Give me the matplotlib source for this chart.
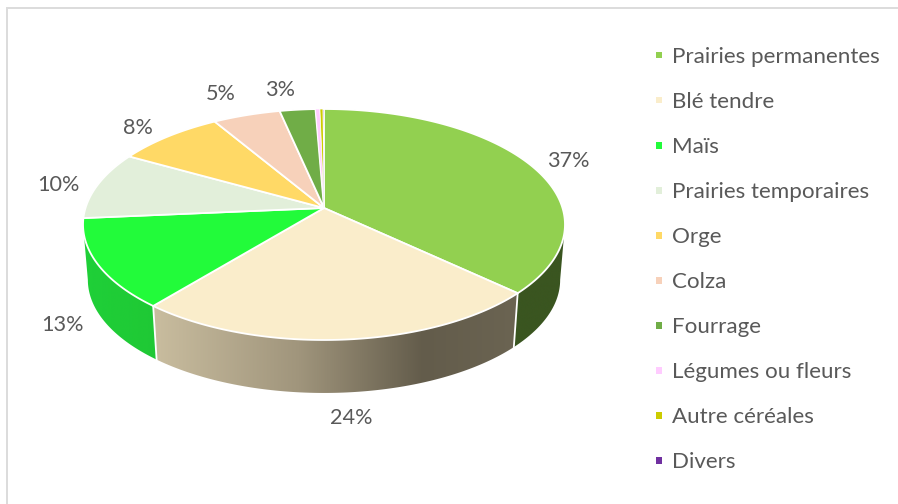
import numpy as np
import matplotlib
matplotlib.use("Agg")
import matplotlib.pyplot as plt
from matplotlib.patches import Polygon
from matplotlib.colors import LinearSegmentedColormap

categories = ["Prairies permanentes", "Blé tendre", "Maïs", "Prairies temporaires", "Orge",
              "Colza", "Fourrage", "Légumes ou fleurs", "Autre céréales", "Divers"]
values = [36.9, 24.1, 12.6, 9.5, 8.3, 5.2, 2.75, 0.34, 0.24, 0.07]
value_labels = ["37%", "24%", "13%", "10%", "8%", "5%", "3%"]
colors = ["#92D050", "#FAEDCB", "#22FB3A", "#E2EFDA", "#FFD966",
          "#F7D1BA", "#70AD47", "#FFCCFF", "#CCCC00", "#7030A0"]
label_pos = [(568, 161), (351, 418), (62, 325), (58, 185), (138, 128), (221, 94), (280, 90)]
wall_ramps = {0: [(0, "#3A5520"), (1, "#3A5520")],
              1: [(0, "#C9BD9F"), (0.40, "#A0957C"), (0.74, "#635C4B"), (1, "#6B6452")],
              2: [(0, "#1FD038"), (1, "#1FC835")]}

TXT = "#595959"
FONT = "Lato"
FS_LEG = 16.1
FS_LAB = 15.6

fig = plt.figure(figsize=(8.98, 5.04), dpi=100)
ax = fig.add_axes([0, 0, 1, 1])
ax.set_xlim(0, 898)
ax.set_ylim(504, 0)
ax.axis("off")

# Frame
ax.plot([7, 7, 897], [504, 8, 8], color="#DCDCDC", lw=1.4, solid_joinstyle="miter", zorder=1)

# Perspective projection of the pie disc
CX, CY = 324, 208
K = 1 / 7
A, B = 238.5, 113.14


def project(theta):
    u, v = np.sin(theta), np.cos(theta)
    w = 1 + K * v
    return A * u / w, B * v / w


def top_xy(theta):
    x, y = project(theta)
    return CX + x, CY - y


def bottom_xy(theta):
    x, y = project(theta)
    return CX + 0.98 * x, CY - 0.98 * y + 55.6


fractions = np.array(values) / sum(values)
edges = np.concatenate([[0], np.cumsum(fractions)]) * 2 * np.pi

# Angles where the disc is widest: the silhouette of the wall runs between them
t_right = np.pi - np.arccos(K)
t_right = np.pi / 2 + np.arcsin(K)
t_left = 3 * np.pi / 2 - np.arcsin(K)

# Side walls (front slices only), drawn behind the top faces
for i, ramp in wall_ramps.items():
    t0 = max(edges[i], t_right)
    t1 = min(edges[i + 1], t_left)
    t = np.linspace(t0, t1, 200)
    xt, yt = top_xy(t)
    xb, yb = bottom_xy(t)
    pts = np.column_stack([np.r_[xt, xb[::-1]], np.r_[yt, yb[::-1]]])
    poly = Polygon(pts, closed=True, facecolor="none", edgecolor="none", transform=ax.transData)
    ax.add_patch(poly)
    cmap = LinearSegmentedColormap.from_list(f"w{i}", ramp)
    grad = np.linspace(0, 1, 256).reshape(1, -1)
    im = ax.imshow(grad, cmap=cmap, aspect="auto", zorder=2,
                   extent=[pts[:, 0].min(), pts[:, 0].max(), pts[:, 1].max(), pts[:, 1].min()])
    im.set_clip_path(poly)
    # separator between neighbouring front slices
    if edges[i + 1] < t_left:
        xe0, ye0 = top_xy(edges[i + 1])
        xe1, ye1 = bottom_xy(edges[i + 1])
        ax.plot([xe0, xe1], [ye0, ye1], color="white", lw=1.3, zorder=3)

ax.set_xlim(0, 898)
ax.set_ylim(504, 0)

# Top faces
for i, c in enumerate(colors):
    n = max(4, int((edges[i + 1] - edges[i]) * 80))
    t = np.linspace(edges[i], edges[i + 1], n)
    xs, ys = top_xy(t)
    pts = np.column_stack([np.r_[CX, xs], np.r_[CY, ys]])
    lw = 1.3 if values[i] > 1 else 0.5
    ax.add_patch(Polygon(pts, closed=True, facecolor=c, edgecolor="white", lw=lw,
                         joinstyle="round", zorder=4))

# Data labels
for s, (x, y) in zip(value_labels, label_pos):
    ax.text(x, y, s, ha="center", va="center", color=TXT, fontsize=FS_LAB, family=FONT, zorder=6)

# Legend
leg_y = np.linspace(55, 460.5, len(categories))
ax.scatter([659] * len(categories), leg_y, marker="s", s=24, c=colors, linewidths=0, zorder=6)
for name, y in zip(categories, leg_y):
    ax.text(672, y, name, ha="left", va="center_baseline", color=TXT, fontsize=FS_LEG, family=FONT, zorder=6)

fig.savefig("out.png", dpi=100, facecolor="white")
